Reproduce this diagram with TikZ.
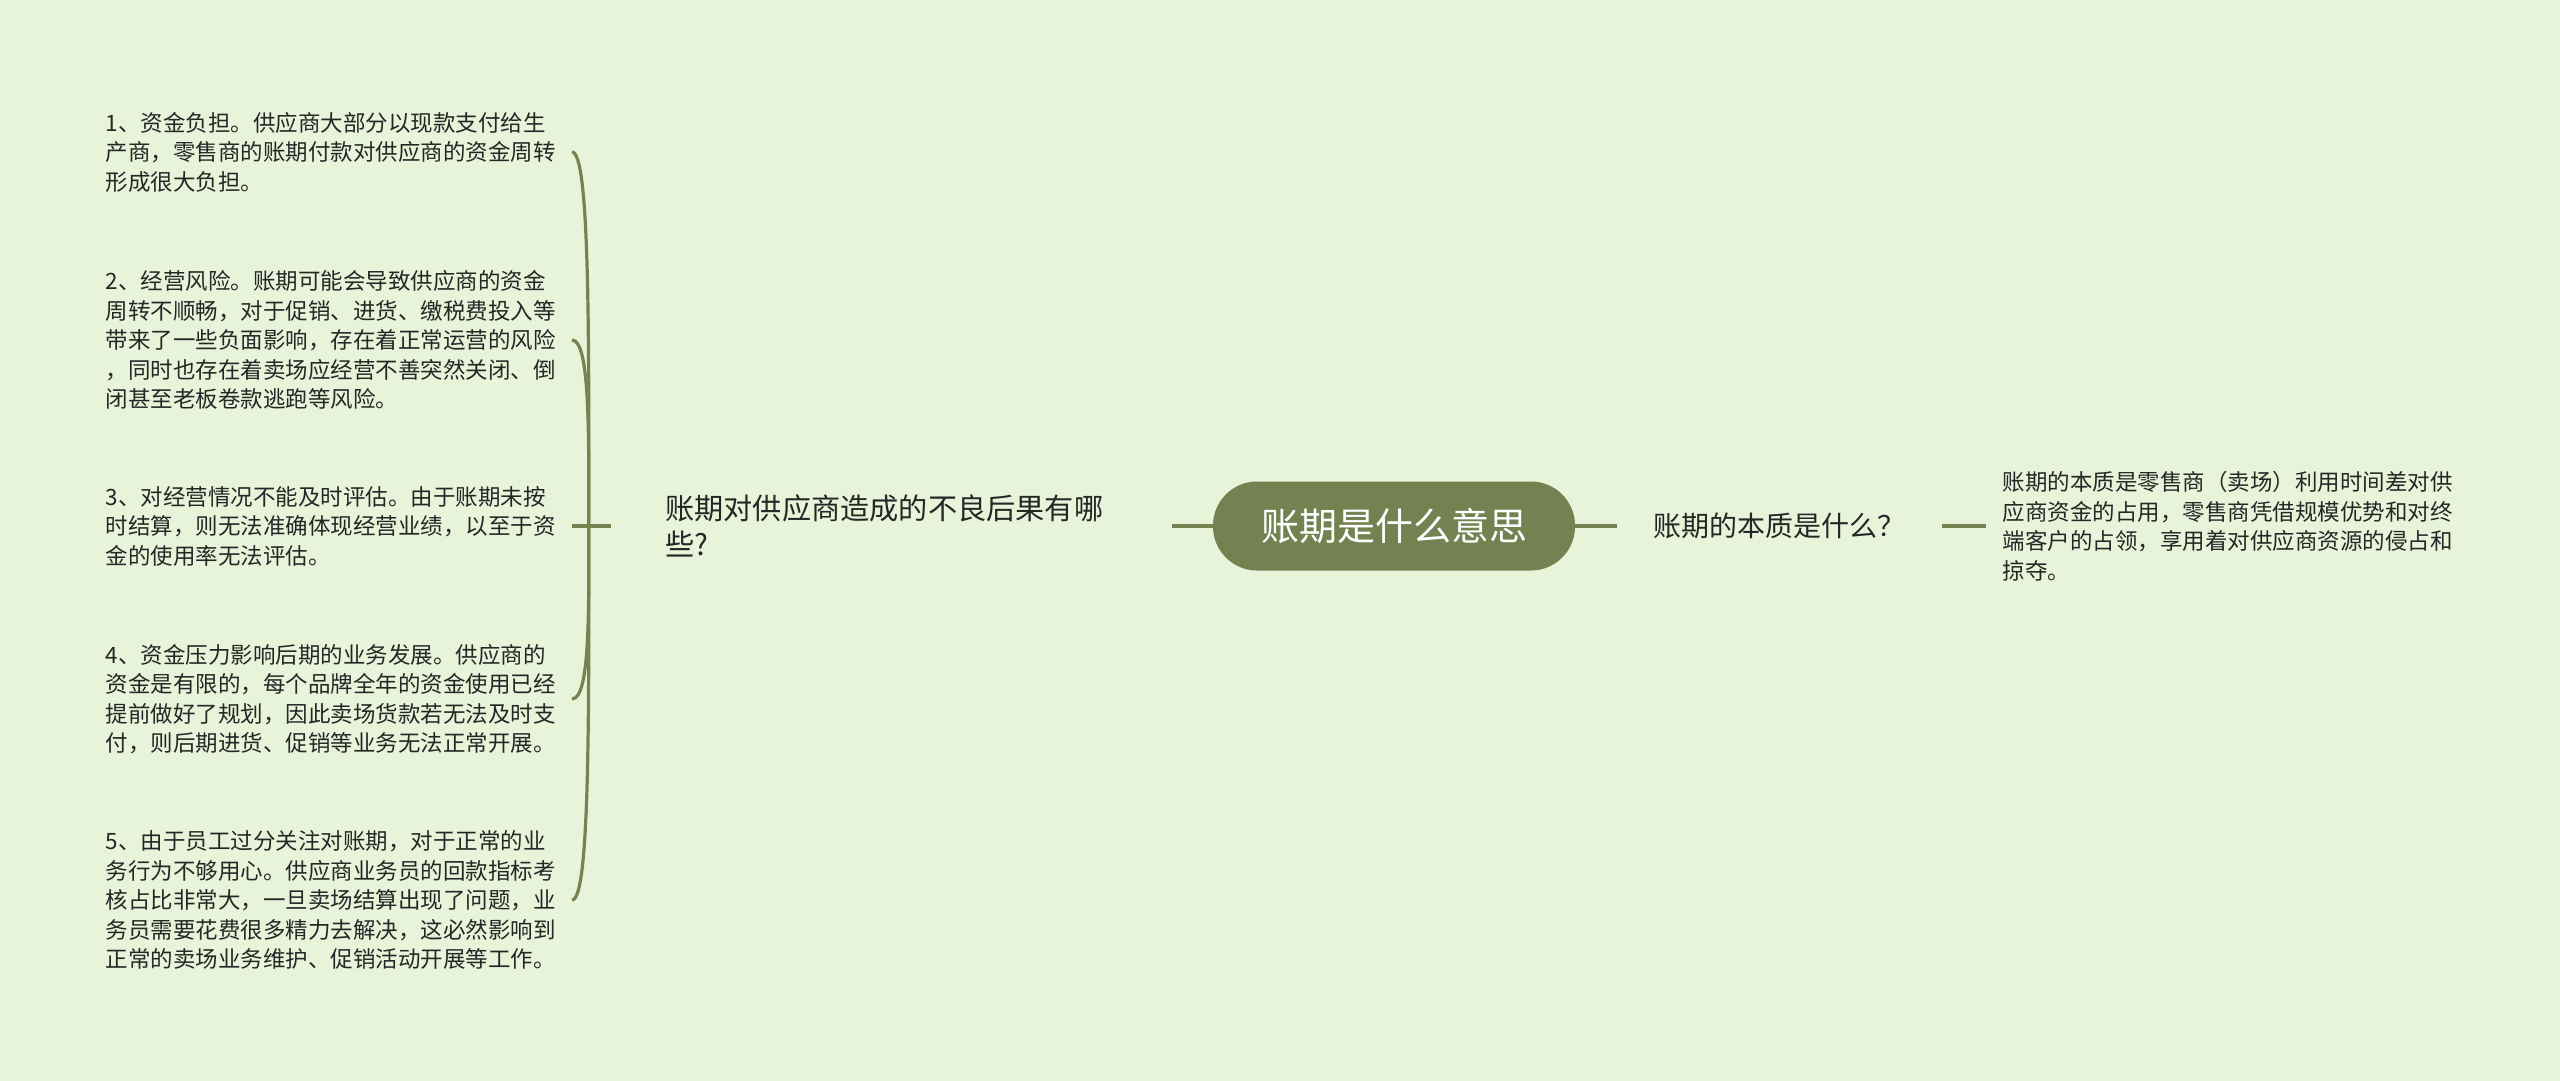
\documentclass[tikz,border=0pt]{standalone}
\usepackage{fontspec}
\setmainfont{Noto Sans CJK SC}
\usetikzlibrary{positioning}
\definecolor{bgcol}{HTML}{E7F4DA}
\definecolor{linkcol}{HTML}{74834F}
\definecolor{rootcol}{HTML}{738250}
\definecolor{txtcol}{HTML}{262626}

\begin{document}
\begin{tikzpicture}[x=0.5pt,y=-0.5pt,
root/.style ={rectangle ,rounded corners=22pt ,fill=rootcol ,text=white ,
 minimum width=181pt ,minimum height=44.5pt ,font=\fontsize{19}{22}\selectfont},
topic/.style ={text=txtcol ,align=left},
leaf/.style ={text=txtcol ,align=left ,text width=226pt ,inner xsep=7pt ,
 font=\fontsize{11.25}{14.75}\selectfont},
link/.style ={draw=linkcol ,line width=1.6pt}]
\fill[bgcol] (0,0) rectangle (2560,1081);
\useasboundingbox (0,0) rectangle (2560,1081);
\node[root] (C) at (1394,526) {账期是什么意思};
\node[topic,text width=226pt,inner xsep=27pt,font=\fontsize{14.6}{18}\selectfont] (L) [left=20.5pt of C]
 {账期对供应商造成的不良后果有哪\\些?};
\node[topic,inner xsep=18pt,font=\fontsize{14}{17}\selectfont] (R) [right=21pt of C] {账期的本质是什么？};
\node[leaf,inner xsep=8pt] (RL) [right=22pt of R]
 {账期的本质是零售商（卖场）利用时间差对供\\应商资金的占用，零售商凭借规模优势和对终\\端客户的占领，享用着对供应商资源的侵占和\\掠夺。};
% left leaves
\node[leaf,anchor=east] (l1) at (572,152)
 {1、资金负担。供应商大部分以现款支付给生\\产商，零售商的账期付款对供应商的资金周转\\形成很大负担。};
\node[leaf,anchor=east] (l2) at (572,340)
 {2、经营风险。账期可能会导致供应商的资金\\周转不顺畅，对于促销、进货、缴税费投入等\\带来了一些负面影响，存在着正常运营的风险\\，同时也存在着卖场应经营不善突然关闭、倒\\闭甚至老板卷款逃跑等风险。};
\node[leaf,anchor=east] (l3) at (572,526)
 {3、对经营情况不能及时评估。由于账期未按\\时结算，则无法准确体现经营业绩，以至于资\\金的使用率无法评估。};
\node[leaf,anchor=east] (l4) at (572,699)
 {4、资金压力影响后期的业务发展。供应商的\\资金是有限的，每个品牌全年的资金使用已经\\提前做好了规划，因此卖场货款若无法及时支\\付，则后期进货、促销等业务无法正常开展。};
\node[leaf,anchor=east] (l5) at (572,900)
 {5、由于员工过分关注对账期，对于正常的业\\务行为不够用心。供应商业务员的回款指标考\\核占比非常大，一旦卖场结算出现了问题，业\\务员需要花费很多精力去解决，这必然影响到\\正常的卖场业务维护、促销活动开展等工作。};
\draw[link,line width=1.9pt] (C.west) -- (L.east);
\draw[link,line width=1.9pt] (C.east) -- (R.west);
\draw[link] (R.east) -- (RL.west);
\draw[link] (L.west) -- (l3.east);
\foreach \n/\d in {l1/-187,l2/-93,l4/87,l5/187}
 \draw[link] (L.west) -- ++(-22,0) .. controls +(0,\d) and +(18,0) .. (\n.east);
\end{tikzpicture}
\end{document}
